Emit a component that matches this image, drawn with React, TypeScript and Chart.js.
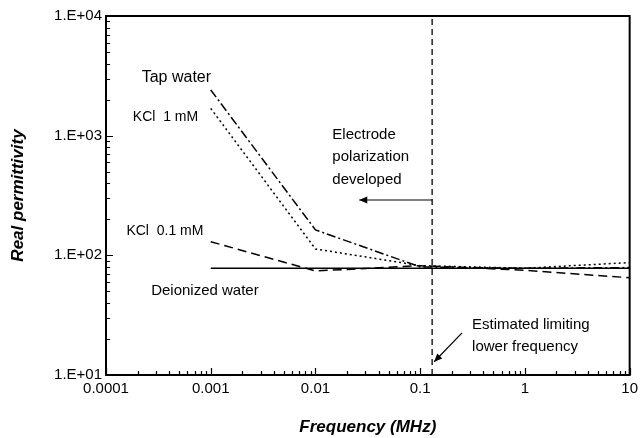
import React, { useEffect, useRef } from "react";
import { Chart, registerables } from "chart.js";

Chart.register(...registerables);

// Frequency points (MHz) and the measured real permittivity of each sample
const frequencies = [0.001, 0.01, 0.1, 1, 10];
const tapWater = [2410, 163, 80, 78, 79];
const kcl1mM = [1690, 113, 82, 78, 87];
const kcl01mM = [130, 74, 82, 75, 65];
const deionizedWater = [78, 78, 78, 78, 78];

// Estimated limiting lower frequency (MHz)
const limitFrequency = 0.13;

// Axis ranges and tick labels
const xRange = [0.0001, 10];
const yRange = [10, 10000];
const xTickLabels: Record<string, string> = {
  "0.0001": "0.0001",
  "0.001": "0.001",
  "0.01": "0.01",
  "0.1": "0.1",
  "1": "1",
  "10": "10",
};

const FONT = "'Liberation Sans', Arial, Helvetica, sans-serif";

const isPow10 = (v: number) => Math.abs(Math.log10(v) - Math.round(Math.log10(v))) < 1e-9;

const logTicks = (min: number, max: number) => {
  const out: number[] = [];
  const lo = Math.round(Math.log10(min));
  const hi = Math.round(Math.log10(max));
  for (let e = lo; e < hi; e++) {
    for (let m = 1; m <= 9; m++) out.push(parseFloat((m * Math.pow(10, e)).toPrecision(6)));
  }
  out.push(max);
  return out;
};

const yLabel = (v: number) => {
  const e = Math.round(Math.log10(v));
  return `1.E${e < 0 ? "-" : "+"}${String(Math.abs(e)).padStart(2, "0")}`;
};

const xLabel = (v: number) => {
  const key = String(parseFloat(v.toPrecision(6)));
  return xTickLabels[key] ?? "";
};

const pts = (ys: number[]) => frequencies.map((f, i) => ({ x: f, y: ys[i] }));

// Inside tick marks, the plot frame and the text/arrow notes
const decorPlugin = {
  id: "decor",
  afterDraw(chart: any) {
    const { ctx, chartArea } = chart;
    const { left, right, top, bottom } = chartArea;
    const xs = chart.scales.x;
    const ys = chart.scales.y;
    ctx.save();
    ctx.strokeStyle = "#000";
    ctx.fillStyle = "#000";

    // ticks pointing into the plot
    ctx.lineWidth = 1.2;
    ctx.beginPath();
    ys.ticks.forEach((t: any) => {
      const py = Math.round(ys.getPixelForValue(t.value)) + 0.5;
      const len = isPow10(t.value) ? 7 : 4;
      ctx.moveTo(left, py);
      ctx.lineTo(left + len, py);
    });
    xs.ticks.forEach((t: any) => {
      const px = Math.round(xs.getPixelForValue(t.value)) + 0.5;
      const len = isPow10(t.value) ? 7 : 4;
      ctx.moveTo(px, bottom);
      ctx.lineTo(px, bottom - len);
    });
    ctx.stroke();

    // frame
    ctx.lineWidth = 2;
    ctx.strokeRect(left, top, right - left, bottom - top);

    const P = (x: number, y: number) => [xs.getPixelForValue(x), ys.getPixelForValue(y)];

    const arrow = (x0: number, y0: number, x1: number, y1: number) => {
      const [ax, ay] = P(x0, y0);
      const [bx, by] = P(x1, y1);
      ctx.lineWidth = 1.2;
      ctx.setLineDash([]);
      ctx.beginPath();
      ctx.moveTo(ax, ay);
      ctx.lineTo(bx, by);
      ctx.stroke();
      const ang = Math.atan2(by - ay, bx - ax);
      const hl = 8;
      const hw = 3.5;
      ctx.beginPath();
      ctx.moveTo(bx, by);
      ctx.lineTo(bx - hl * Math.cos(ang) + hw * Math.sin(ang), by - hl * Math.sin(ang) - hw * Math.cos(ang));
      ctx.lineTo(bx - hl * Math.cos(ang) - hw * Math.sin(ang), by - hl * Math.sin(ang) + hw * Math.cos(ang));
      ctx.closePath();
      ctx.fill();
    };

    const text = (s: string, x: number, y: number, size: number, align: CanvasTextAlign) => {
      const [px, py] = P(x, y);
      ctx.font = `${size}px ${FONT}`;
      ctx.textAlign = align;
      ctx.textBaseline = "middle";
      ctx.fillText(s, px, py);
    };

    text("Tap water", 0.00047, 3030, 16, "center");
    text("KCl  1 mM", 0.00037, 1440, 14, "center");
    text("KCl  0.1 mM", 0.000365, 158, 14, "center");
    text("Deionized water", 0.00088, 50.5, 15, "center");

    text("Electrode", 0.0145, 1014, 15, "left");
    text("polarization", 0.0145, 664, 15, "left");
    text("developed", 0.0145, 427, 15, "left");
    arrow(limitFrequency, 290, 0.0262, 290);

    text("Estimated limiting", 0.313, 26.2, 15, "left");
    text("lower frequency", 0.313, 17.2, 15, "left");
    arrow(0.251, 22.5, 0.136, 12.9);

    ctx.restore();
  },
};

export default function App() {
  const canvasRef = useRef<HTMLCanvasElement | null>(null);

  useEffect(() => {
    if (!canvasRef.current) return;
    const line = (label: string, data: number[], dash: number[], width = 1.5) => ({
      label,
      data: pts(data),
      borderColor: "#000",
      backgroundColor: "#000",
      borderWidth: width,
      borderDash: dash,
      pointRadius: 0,
      tension: 0,
      fill: false,
    });

    const chart = new Chart(canvasRef.current, {
      type: "line",
      data: {
        datasets: [
          line("Tap water", tapWater, [9, 3, 2, 3]),
          line("KCl 1 mM", kcl1mM, [2, 3]),
          line("KCl 0.1 mM", kcl01mM, [9, 5]),
          line("Deionized water", deionizedWater, []),
          {
            label: "Estimated limiting lower frequency",
            data: [
              { x: limitFrequency, y: yRange[0] },
              { x: limitFrequency, y: yRange[1] },
            ],
            borderColor: "#000",
            borderWidth: 1.3,
            borderDash: [6, 4],
            pointRadius: 0,
            fill: false,
          },
        ],
      },
      options: {
        animation: false,
        responsive: true,
        maintainAspectRatio: false,
        layout: { padding: { top: 16, right: 12, left: 0, bottom: 0 } },
        plugins: {
          legend: { display: false },
          tooltip: { enabled: false },
        },
        scales: {
          x: {
            type: "logarithmic",
            min: xRange[0],
            max: xRange[1],
            grid: { display: false, drawTicks: false },
            border: { display: false },
            afterBuildTicks: (s: any) => {
              s.ticks = logTicks(xRange[0], xRange[1]).map((v) => ({ value: v, major: isPow10(v) }));
            },
            afterFit: (s: any) => {
              s.height = 63;
            },
            ticks: {
              autoSkip: false,
              maxRotation: 0,
              padding: 5,
              color: "#000",
              font: { family: FONT, size: 15 },
              callback: (v: any) => (isPow10(Number(v)) ? xLabel(Number(v)) : ""),
            },
            title: {
              display: true,
              text: "Frequency (MHz)",
              color: "#000",
              font: { family: FONT, size: 17, weight: "bold", style: "italic" },
              padding: { top: 0, bottom: 0 },
            },
          },
          y: {
            type: "logarithmic",
            min: yRange[0],
            max: yRange[1],
            grid: { display: false, drawTicks: false },
            border: { display: false },
            afterBuildTicks: (s: any) => {
              s.ticks = logTicks(yRange[0], yRange[1]).map((v) => ({ value: v, major: isPow10(v) }));
            },
            afterFit: (s: any) => {
              s.width = 106;
            },
            ticks: {
              autoSkip: false,
              padding: 4,
              color: "#000",
              font: { family: FONT, size: 15 },
              callback: (v: any) => (isPow10(Number(v)) ? yLabel(Number(v)) : ""),
            },
            title: {
              display: true,
              text: "Real permittivity",
              color: "#000",
              font: { family: FONT, size: 17, weight: "bold", style: "italic" },
              padding: { top: 8, bottom: 0 },
            },
          },
        },
      },
      plugins: [decorPlugin],
    });
    return () => chart.destroy();
  }, []);

  return (
    <div style={{ position: "absolute", left: 0, top: 0, width: 643, height: 438, background: "#fff" }}>
      <canvas ref={canvasRef} />
    </div>
  );
}
